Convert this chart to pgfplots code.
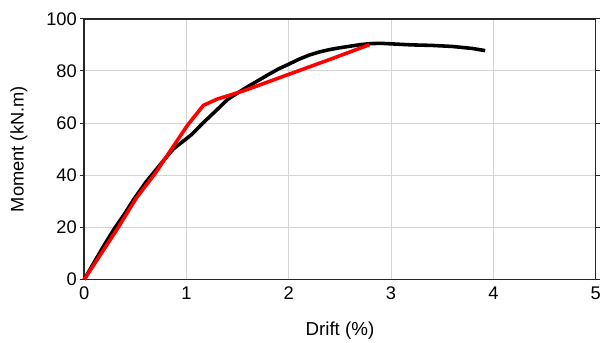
\documentclass[border=0pt]{standalone}
\usepackage{pgfplots}
\pgfplotsset{compat=1.18}
\usepackage{fontspec}
\setmainfont{Liberation Sans}
\begin{document}
\begin{tikzpicture}[x=1bp,y=1bp]
\begin{axis}[
  at={(0,0)}, anchor=south west,
  scale only axis, width=516bp, height=263bp,
  xmin=0, xmax=5, ymin=0, ymax=100,
  xtick={0,1,2,3,4,5}, ytick={0,20,40,60,80,100},
  grid=major,
  major grid style={color=black!17, line width=1.1bp},
  axis line style={color=black!85, line width=1.7bp},
  tick style={color=black!85, line width=1bp},
  tick align=outside,
  xtick style={draw=none},
  major tick length=4bp,
  tick label style={font=\fontsize{18.5}{21}\selectfont},
  label style={font=\fontsize{18.5}{21}\selectfont},
  /pgf/number format/assume math mode=true,
  xlabel={Drift (\%)}, ylabel={Moment (kN.m)},
  xlabel style={at={(axis description cs:0.5,-0.195)}, anchor=center, font=\fontsize{19}{21}\selectfont},
  ylabel style={at={(axis description cs:-0.128,0.5)}, anchor=center},
  clip=false,
]
\addplot[black, line width=3.6bp, line join=round] coordinates {
(0,0) (0.1,6.8) (0.2,13.5) (0.29,19.2) (0.4,25.5) (0.48,30.5) (0.6,37.2) (0.7,42) (0.8,46.8) (0.87,50) (0.95,52.5) (1.05,55.6) (1.16,60) (1.3,65.2) (1.4,69) (1.5,71.6) (1.6,74) (1.7,76.3) (1.8,78.6) (1.9,80.8) (2.0,82.6) (2.1,84.5) (2.2,86.1) (2.3,87.3) (2.4,88.2) (2.5,88.9) (2.6,89.5) (2.7,90.1) (2.8,90.5) (2.9,90.6) (3.0,90.4) (3.2,90.0) (3.4,89.8) (3.6,89.4) (3.8,88.6) (3.92,87.8)
};
\addplot[red, line width=3.6bp, line join=round] coordinates {
(0,0) (0.32,19.2) (0.51,31.3) (0.69,40.5) (1.01,59.2) (1.165,66.8) (1.30,69.2) (1.56,72.4) (2.0,78.7) (2.40,84.4) (2.79,90.1)
};
\end{axis}
\useasboundingbox (-85,-60) rectangle (519,282);
\end{tikzpicture}
\end{document}
